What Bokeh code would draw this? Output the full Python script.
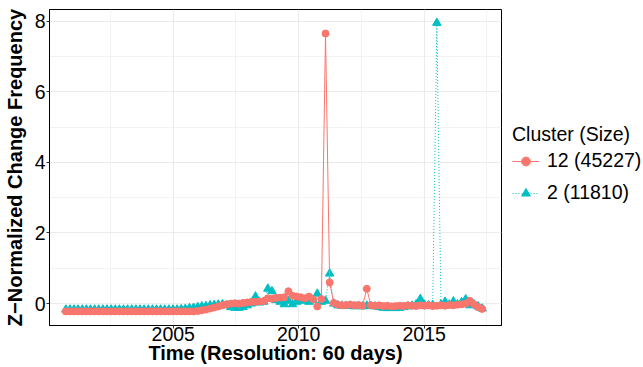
import pandas as pd
from bokeh.plotting import figure
from bokeh.layouts import row
from bokeh.models import Range1d, FixedTicker, Legend, LegendItem
from bokeh.embed import file_html
from bokeh.resources import INLINE

# ---------------- data ----------------
start_date = "2000-09-20"
step_days = 60
series_names = ["12 (45227)", "2 (11810)"]
series_colors = ["#F8766D", "#00BFC4"]

cluster12 = [
    -0.22, -0.22, -0.22, -0.22, -0.22, -0.22, -0.22, -0.22, -0.22, -0.22,
    -0.22, -0.22, -0.22, -0.22, -0.22, -0.22, -0.22, -0.22, -0.22, -0.22,
    -0.22, -0.22, -0.22, -0.22, -0.22, -0.22, -0.22, -0.22, -0.22, -0.22,
    -0.22, -0.22, -0.21, -0.19, -0.17, -0.14, -0.11, -0.08, -0.05, -0.02,
    0.00, 0.01, 0.00, 0.02, 0.03, 0.05, 0.05, 0.06, 0.07, 0.15,
    0.14, 0.16, 0.17, 0.18, 0.35, 0.22, 0.20, 0.18, 0.15, 0.20,
    0.12, -0.08, 0.13, 7.65, 0.60, 0.02, -0.03, -0.05, -0.04, -0.03,
    -0.05, -0.04, -0.06, 0.42, -0.05, -0.06, -0.05, -0.07, -0.06, -0.08,
    -0.07, -0.06, -0.07, -0.05, -0.06, -0.07, -0.05, -0.06, -0.05, -0.07,
    -0.06, -0.05, -0.06, -0.04, -0.05, -0.03, -0.02, 0.00, 0.08, -0.02,
    -0.10, -0.15,
]

cluster2 = [
    -0.17, -0.17, -0.17, -0.17, -0.17, -0.17, -0.17, -0.17, -0.17, -0.17,
    -0.17, -0.17, -0.17, -0.17, -0.17, -0.17, -0.17, -0.17, -0.17, -0.17,
    -0.17, -0.17, -0.17, -0.17, -0.17, -0.17, -0.17, -0.17, -0.16, -0.15,
    -0.13, -0.12, -0.10, -0.08, -0.07, -0.05, -0.04, -0.03, -0.02, -0.05,
    -0.10, -0.12, -0.12, -0.10, -0.05, 0.00, 0.20, 0.03, 0.05, 0.42,
    0.35, 0.10, 0.05, -0.02, 0.08, -0.02, 0.05, 0.08, 0.10, 0.05,
    0.10, 0.28, 0.05, 0.08, 0.85, 0.00, -0.05, -0.06, -0.07, -0.06,
    -0.08, -0.07, -0.08, -0.06, -0.07, -0.08, -0.10, -0.12, -0.13, -0.12,
    -0.13, -0.12, -0.10, -0.08, -0.06, -0.02, 0.13, -0.03, -0.05, -0.04,
    7.95, -0.03, 0.05, -0.03, 0.06, -0.02, 0.04, 0.12, -0.05, -0.02,
    -0.08, -0.14,
]

x_major = [2005, 2010, 2015]
x_minor = [2002.5, 2007.5, 2012.5, 2017.5]
y_major = [0, 2, 4, 6, 8]
y_minor = [1, 3, 5, 7]

x_title = "Time (Resolution: 60 days)"
y_title = "Z\u2212Normalized Change Frequency"
legend_title = "Cluster (Size)"

dates = pd.date_range(start_date, periods=len(cluster12), freq=f"{step_days}D")
t = list(dates.year + (dates.dayofyear - 1) / 365.25)

FONT = "Liberation Sans"

# ---------------- main plot ----------------
p = figure(
    width=502, height=367,
    x_range=Range1d(2000.07, 2018.08),
    y_range=Range1d(-0.62, 8.33),
    output_backend="svg", toolbar_location=None,
    min_border_left=45, min_border_right=1,
    min_border_top=9, min_border_bottom=42,
)
p.background_fill_color = "white"
p.border_fill_color = "white"
p.outline_line_color = "black"
p.outline_line_width = 1

p.xaxis.ticker = FixedTicker(ticks=x_major, minor_ticks=x_minor)
p.yaxis.ticker = FixedTicker(ticks=y_major, minor_ticks=y_minor)

for ax in (p.xaxis, p.yaxis):
    ax.axis_line_color = "black"
    ax.major_tick_line_color = "#333333"
    ax.major_tick_in = 0
    ax.major_tick_out = 3
    ax.minor_tick_line_color = None
    ax.major_label_text_font = FONT
    ax.major_label_text_font_size = "19.5px"
    ax.major_label_text_color = "black"
    ax.axis_label_text_font = FONT
    ax.axis_label_text_font_size = "20px"
    ax.axis_label_text_font_style = "bold"
    ax.axis_label_text_color = "black"

p.xaxis.axis_label = x_title
p.yaxis.axis_label = y_title
p.xaxis.major_label_standoff = -3
p.xaxis.axis_label_standoff = -2
p.yaxis.major_label_standoff = 0
p.yaxis.axis_label_standoff = 6

for g in (p.xgrid, p.ygrid):
    g.grid_line_color = "#EBEBEB"
    g.grid_line_width = 1.1
    g.minor_grid_line_color = "#EBEBEB"
    g.minor_grid_line_width = 0.6

# cluster 2 (cyan) drawn first, cluster 12 on top
p.line(t, cluster2, line_color=series_colors[1], line_width=1, line_dash="1 2")
p.scatter(t, cluster2, marker="triangle", size=8.5,
          fill_color=series_colors[1], line_color=series_colors[1])
p.line(t, cluster12, line_color=series_colors[0], line_width=1)
p.scatter(t, cluster12, marker="circle", size=7,
          fill_color=series_colors[0], line_color=series_colors[0])

# ---------------- legend panel ----------------
# same series, but the panel's ranges keep them out of view: only the legend shows
q = figure(
    width=141, height=367,
    x_range=Range1d(0, 1), y_range=Range1d(100, 101),
    output_backend="svg", toolbar_location=None,
    min_border=0, x_axis_location=None, y_axis_location=None,
)
q.outline_line_color = None
q.grid.visible = False
q.background_fill_color = "white"
q.border_fill_color = "white"

kl12 = q.line(t, cluster12, line_color=series_colors[0], line_width=1)
ks12 = q.scatter(t, cluster12, marker="circle", size=6.5,
                 fill_color=series_colors[0], line_color=series_colors[0])
kl2 = q.line(t, cluster2, line_color=series_colors[1], line_width=1, line_dash="1 2")
ks2 = q.scatter(t, cluster2, marker="triangle", size=7.5,
                fill_color=series_colors[1], line_color=series_colors[1])

legend = Legend(
    items=[LegendItem(label=series_names[0], renderers=[kl12, ks12]),
           LegendItem(label=series_names[1], renderers=[kl2, ks2])],
    location=(10, 121),
    title=legend_title,
)
legend.title_text_font = FONT
legend.title_text_font_size = "19.5px"
legend.title_text_font_style = "normal"
legend.title_text_color = "black"
legend.title_standoff = 3
legend.label_text_font = FONT
legend.label_text_font_size = "19.5px"
legend.label_text_color = "black"
legend.glyph_width = 27
legend.glyph_height = 22
legend.label_height = 22
legend.label_standoff = 8
legend.spacing = 9
legend.padding = 0
legend.margin = 0
legend.border_line_color = None
legend.background_fill_color = None
q.add_layout(legend, "center")

layout = row(p, q, spacing=0)
open("out.html", "w").write(file_html(layout, INLINE))
